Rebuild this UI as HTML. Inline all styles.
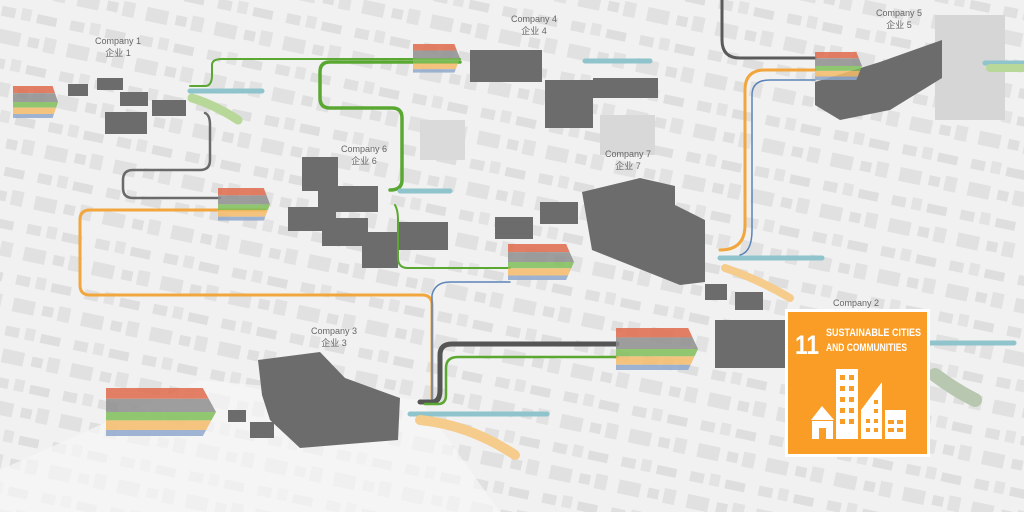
<!DOCTYPE html>
<html><head><meta charset="utf-8"><style>
html,body{margin:0;padding:0;background:#f2f2f2;}
svg{display:block}
text{font-family:"Liberation Sans","Noto Sans CJK SC",sans-serif;fill:#666;font-size:9px}
</style></head><body>
<svg width="1024" height="512" viewBox="0 0 1024 512" xmlns="http://www.w3.org/2000/svg">
<defs>
<pattern id="city" width="70" height="52" patternUnits="userSpaceOnUse" patternTransform="rotate(12)">
<rect width="70" height="52" fill="#f1f1f1"/>
<rect x="4" y="5" width="14" height="10" fill="#e0e0e0"/>
<rect x="24" y="3" width="10" height="12" fill="#e3e3e3"/>
<rect x="40" y="6" width="20" height="9" fill="#dedede"/>
<rect x="6" y="28" width="22" height="14" fill="#e1e1e1"/>
<rect x="36" y="30" width="11" height="10" fill="#dfdfdf"/>
<rect x="52" y="27" width="12" height="15" fill="#e2e2e2"/>
</pattern>
<clipPath id="arr"><polygon points="0,0 88,0 100,20 88,40 0,40"/></clipPath>
<g id="stack">
<g clip-path="url(#arr)" opacity="0.85">
<rect x="0" y="0" width="100" height="9" fill="#e06a4a"/>
<rect x="0" y="9" width="100" height="11" fill="#8f8f8f"/>
<rect x="0" y="20" width="100" height="7" fill="#7fbf5a"/>
<rect x="0" y="27" width="100" height="8" fill="#f5bb6a"/>
<rect x="0" y="35" width="100" height="5" fill="#8fa8cc"/>
</g></g>
</defs>
<rect width="1024" height="512" fill="url(#city)"/>
<polygon points="0,470 200,380 420,400 500,512 0,512" fill="#f6f6f6" opacity="0.7"/>
<rect x="935" y="15" width="70" height="105" fill="#d6d6d6"/>
<rect x="600" y="115" width="55" height="40" fill="#d8d8d8"/>
<rect x="420" y="120" width="45" height="40" fill="#dadada"/>
<!-- dark buildings -->
<g fill="#6c6c6c">
<rect x="68" y="84" width="20" height="12"/><rect x="97" y="78" width="26" height="12"/><rect x="120" y="92" width="28" height="14"/>
<rect x="105" y="112" width="42" height="22"/><rect x="152" y="100" width="34" height="16"/>
<rect x="470" y="50" width="72" height="32"/><rect x="545" y="80" width="48" height="48"/><rect x="593" y="78" width="65" height="20"/>
<polygon points="815,82 880,62 942,40 942,78 890,110 840,120 815,105"/>
<rect x="302" y="157" width="36" height="34"/><rect x="318" y="186" width="60" height="26"/><rect x="288" y="207" width="48" height="24"/>
<rect x="322" y="218" width="46" height="28"/><rect x="362" y="232" width="36" height="36"/><rect x="398" y="222" width="50" height="28"/>
<rect x="495" y="217" width="38" height="22"/><rect x="540" y="202" width="38" height="22"/>
<polygon points="582,192 640,178 675,186 675,205 705,220 705,282 680,285 592,250"/>
<rect x="715" y="320" width="70" height="48"/><rect x="705" y="284" width="22" height="16"/><rect x="735" y="292" width="28" height="18"/>
<polygon points="258,360 320,352 345,378 400,398 398,440 300,448 270,420 262,395"/>
<rect x="228" y="410" width="18" height="12"/><rect x="250" y="422" width="24" height="16"/>
</g>
<!-- lines -->
<g fill="none" stroke-linecap="round">
<path d="M722,0 V40 Q722,58 740,58 H815" stroke="#5a5a5a" stroke-width="3"/>
<path d="M720,250 Q745,250 745,225 V90 Q745,70 765,70 H815" stroke="#f2a73e" stroke-width="3"/>
<path d="M740,255 Q752,252 752,230 V95 Q752,80 770,80 H815" stroke="#5c84b8" stroke-width="1.5"/>
<path d="M205,113 Q210,115 210,125 V160 Q210,170 200,170 H133 Q123,170 123,180 V188 Q123,198 133,198 H220" stroke="#6a6a6a" stroke-width="2.5"/>
<path d="M190,86 H205 Q212,86 212,75 V65 Q212,59 222,59 H460" stroke="#5aa832" stroke-width="2"/>
<path d="M460,62 H330 Q320,62 320,72 V98 Q320,108 330,108 H392 Q402,108 402,118 V180 Q402,190 390,190" stroke="#5aa832" stroke-width="3.5"/>
<path d="M395,205 Q398,210 398,220 V258 Q398,268 408,268 H510" stroke="#5aa832" stroke-width="2"/>
<path d="M265,210 H90 Q80,210 80,220 V285 Q80,295 90,295 H422 Q432,295 432,305 V398" stroke="#f2a73e" stroke-width="3"/>
<path d="M432,400 V295 Q435,282 450,282 H510" stroke="#5c84b8" stroke-width="1.5"/>
<path d="M420,402 H432 Q440,402 440,390 V355 Q440,344 452,344 H617" stroke="#555" stroke-width="5"/>
<path d="M425,404 H438 Q446,404 446,395 V368 Q446,357 458,357 H617" stroke="#5aa832" stroke-width="2.5"/>
<g stroke="#8fc4cc" stroke-width="5">
<path d="M190,91 H262"/><path d="M585,61 H650"/><path d="M400,191 H450"/><path d="M410,414 H547"/><path d="M720,258 H822"/><path d="M930,343 H1014"/><path d="M985,63 H1024"/>
</g>
<path d="M420,420 Q470,425 515,455" stroke="#f5cc8c" stroke-width="10"/>
<path d="M192,98 Q215,105 238,120" stroke="#b8d89a" stroke-width="9"/>
<path d="M725,268 Q760,280 790,298" stroke="#f5cc8c" stroke-width="8"/>
<path d="M935,375 Q955,390 975,400" stroke="#b8c8b0" stroke-width="14"/>
<path d="M990,68 H1024" stroke="#b8d89a" stroke-width="8"/>
</g>
<use href="#stack" transform="translate(13,86) scale(0.45,0.8)"/>
<use href="#stack" transform="translate(218,188) scale(0.52,0.82)"/>
<use href="#stack" transform="translate(413,44) scale(0.47,0.72)"/>
<use href="#stack" transform="translate(508,244) scale(0.66,0.9)"/>
<use href="#stack" transform="translate(616,328) scale(0.82,1.05)"/>
<use href="#stack" transform="translate(815,52) scale(0.47,0.7)"/>
<use href="#stack" transform="translate(106,388) scale(1.1,1.2)"/>
<g text-anchor="middle">
<text x="118" y="44">Company 1</text><text x="118" y="56">企业 1</text>
<text x="534" y="22">Company 4</text><text x="534" y="34">企业 4</text>
<text x="899" y="16">Company 5</text><text x="899" y="28">企业 5</text>
<text x="364" y="152">Company 6</text><text x="364" y="164">企业 6</text>
<text x="628" y="157">Company 7</text><text x="628" y="169">企业 7</text>
<text x="856" y="306">Company 2</text>
<text x="334" y="334">Company 3</text><text x="334" y="346">企业 3</text>
</g>
<rect x="785" y="309" width="145" height="148" fill="#fff"/>
<rect x="788" y="312" width="139" height="142" fill="#f99d26"/>
<text x="795" y="354" textLength="24" lengthAdjust="spacingAndGlyphs" style="font-size:27px;font-weight:bold;fill:#fff">11</text>
<text x="826" y="336" textLength="95" lengthAdjust="spacingAndGlyphs" style="font-size:11px;font-weight:bold;fill:#fff">SUSTAINABLE CITIES</text>
<text x="826" y="351" textLength="81" lengthAdjust="spacingAndGlyphs" style="font-size:11px;font-weight:bold;fill:#fff">AND COMMUNITIES</text>
<g fill="#fff">
<polygon points="811,420 822,406 834,420"/><rect x="812" y="421" width="21" height="18"/>
<rect x="836" y="369" width="22" height="70"/>
<polygon points="861,439 861,410 882,382 882,439"/>
<rect x="885" y="410" width="21" height="29"/>
</g>
<g fill="#f99d26">
<rect x="819" y="428" width="7" height="11"/>
<rect x="840" y="375" width="5" height="5"/><rect x="849" y="375" width="5" height="5"/>
<rect x="840" y="386" width="5" height="5"/><rect x="849" y="386" width="5" height="5"/>
<rect x="840" y="397" width="5" height="5"/><rect x="849" y="397" width="5" height="5"/>
<rect x="840" y="408" width="5" height="5"/><rect x="849" y="408" width="5" height="5"/>
<rect x="840" y="419" width="5" height="5"/><rect x="849" y="419" width="5" height="5"/>
<rect x="866" y="419" width="4" height="4"/><rect x="874" y="419" width="4" height="4"/>
<rect x="866" y="428" width="4" height="4"/><rect x="874" y="428" width="4" height="4"/>
<rect x="874" y="400" width="4" height="4"/><rect x="874" y="409" width="4" height="4"/>
<rect x="888" y="420" width="6" height="4"/><rect x="897" y="420" width="6" height="4"/>
<rect x="888" y="428" width="6" height="4"/><rect x="897" y="428" width="6" height="4"/>
</g>
</svg>
</body></html>
